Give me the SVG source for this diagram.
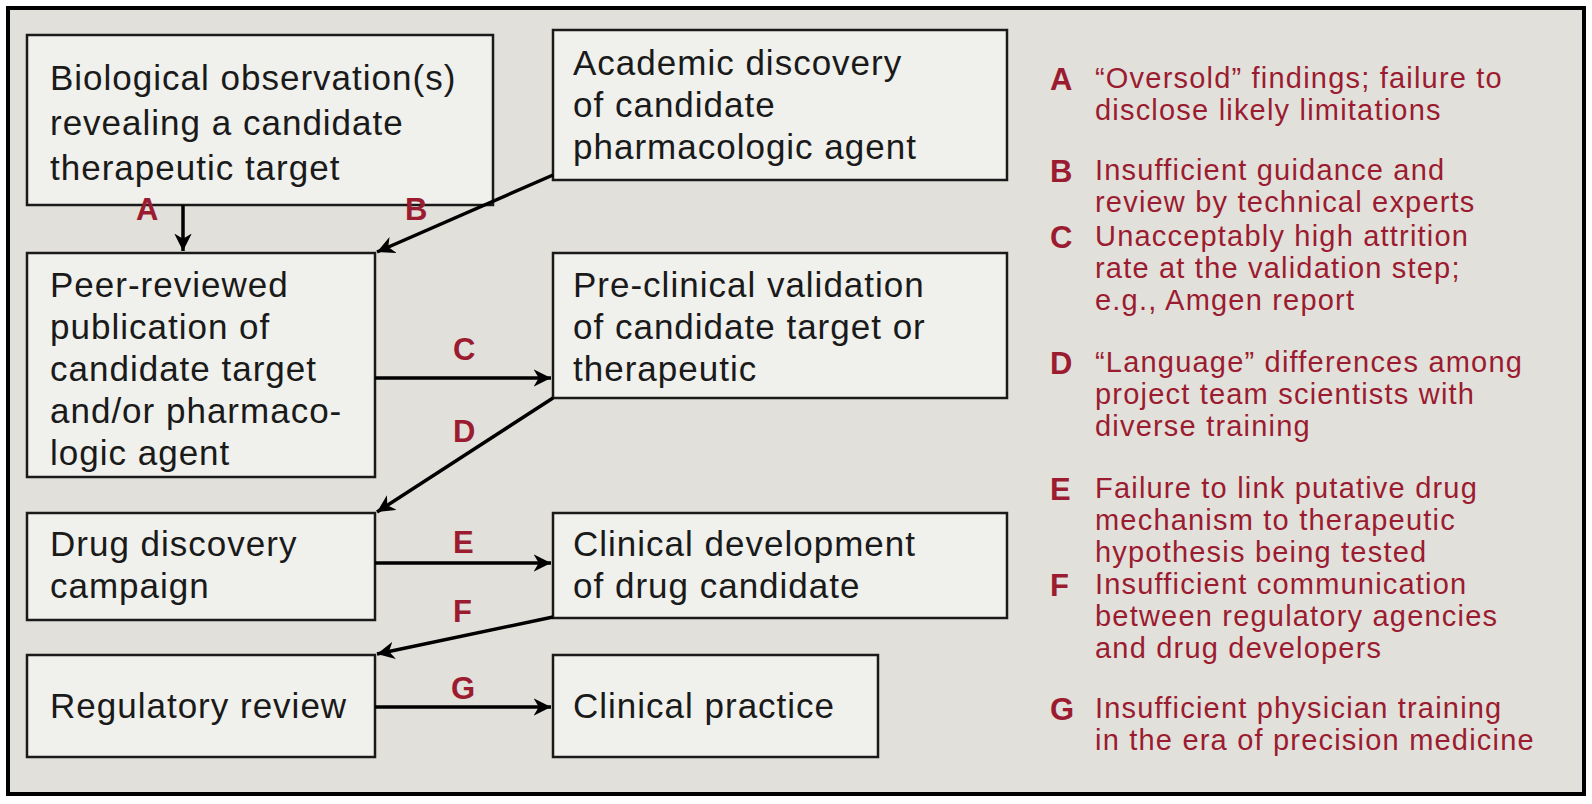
<svg xmlns="http://www.w3.org/2000/svg" width="1592" height="804" viewBox="0 0 1592 804">
<style>
.box{fill:#f0f0ec;stroke:#1a1a1a;stroke-width:2.5}
.t{font-family:"Liberation Sans",Arial,sans-serif;font-size:35px;fill:#1a1a1a;letter-spacing:1px}
.l{font-family:"Liberation Sans",Arial,sans-serif;font-size:31px;font-weight:bold;fill:#9b1b30}
.lg{font-family:"Liberation Sans",Arial,sans-serif;font-size:29px;fill:#9b1b30;letter-spacing:1.2px}
.c{stroke:#000;stroke-width:3.5;fill:none;marker-end:url(#ah)}
</style>
<defs><marker id="ah" viewBox="0 0 10 10" refX="10" refY="5" markerWidth="5" markerHeight="5" orient="auto" markerUnits="strokeWidth"><path d="M0,0L10,5L0,10L3,5z" fill="#000"/></marker></defs>
<rect width="1592" height="804" fill="#fff"/>
<rect x="8" y="8" width="1576" height="786" fill="#e2e0da" stroke="#000" stroke-width="4"/>
<g id="n1"><rect class="box" x="27" y="35" width="466" height="170"/><text class="t" x="50" y="90">Biological observation(s)</text><text class="t" x="50" y="135">revealing a candidate</text><text class="t" x="50" y="180">therapeutic target</text></g>
<g id="n2"><rect class="box" x="553" y="30" width="454" height="150"/><text class="t" x="573" y="75">Academic discovery</text><text class="t" x="573" y="117">of candidate</text><text class="t" x="573" y="159">pharmacologic agent</text></g>
<g id="n3"><rect class="box" x="27" y="253" width="348" height="224"/><text class="t" x="50" y="297">Peer-reviewed</text><text class="t" x="50" y="339">publication of</text><text class="t" x="50" y="381">candidate target</text><text class="t" x="50" y="423">and/or pharmaco-</text><text class="t" x="50" y="465">logic agent</text></g>
<g id="n4"><rect class="box" x="553" y="253" width="454" height="145"/><text class="t" x="573" y="297">Pre-clinical validation</text><text class="t" x="573" y="339">of candidate target or</text><text class="t" x="573" y="381">therapeutic</text></g>
<g id="n5"><rect class="box" x="27" y="513" width="348" height="107"/><text class="t" x="50" y="556">Drug discovery</text><text class="t" x="50" y="598">campaign</text></g>
<g id="n6"><rect class="box" x="553" y="513" width="454" height="105"/><text class="t" x="573" y="556">Clinical development</text><text class="t" x="573" y="598">of drug candidate</text></g>
<g id="n7"><rect class="box" x="27" y="655" width="348" height="102"/><text class="t" x="50" y="718">Regulatory review</text></g>
<g id="n8"><rect class="box" x="553" y="655" width="325" height="102"/><text class="t" x="573" y="718">Clinical practice</text></g>
<g id="connectors">
<line class="c" x1="183" y1="205" x2="183" y2="251"/>
<line class="c" x1="553" y1="175" x2="377" y2="252"/>
<line class="c" x1="375" y1="378" x2="551" y2="378"/>
<line class="c" x1="553" y1="398" x2="377" y2="512"/>
<line class="c" x1="375" y1="563" x2="551" y2="563"/>
<line class="c" x1="553" y1="617" x2="377" y2="654"/>
<line class="c" x1="375" y1="707" x2="551" y2="707"/>
<text class="l" x="136" y="220">A</text>
<text class="l" x="405" y="220">B</text>
<text class="l" x="453" y="360">C</text>
<text class="l" x="453" y="442">D</text>
<text class="l" x="453" y="553">E</text>
<text class="l" x="453" y="622">F</text>
<text class="l" x="451" y="699">G</text>
</g>
<g id="legend">
<text class="l" x="1050" y="90">A</text><text class="lg" x="1095" y="88">“Oversold” findings; failure to</text><text class="lg" x="1095" y="120">disclose likely limitations</text>
<text class="l" x="1050" y="182">B</text><text class="lg" x="1095" y="180">Insufficient guidance and</text><text class="lg" x="1095" y="212">review by technical experts</text>
<text class="l" x="1050" y="248">C</text><text class="lg" x="1095" y="246">Unacceptably high attrition</text><text class="lg" x="1095" y="278">rate at the validation step;</text><text class="lg" x="1095" y="310">e.g., Amgen report</text>
<text class="l" x="1050" y="374">D</text><text class="lg" x="1095" y="372">“Language” differences among</text><text class="lg" x="1095" y="404">project team scientists with</text><text class="lg" x="1095" y="436">diverse training</text>
<text class="l" x="1050" y="500">E</text><text class="lg" x="1095" y="498">Failure to link putative drug</text><text class="lg" x="1095" y="530">mechanism to therapeutic</text><text class="lg" x="1095" y="562">hypothesis being tested</text>
<text class="l" x="1050" y="596">F</text><text class="lg" x="1095" y="594">Insufficient communication</text><text class="lg" x="1095" y="626">between regulatory agencies</text><text class="lg" x="1095" y="658">and drug developers</text>
<text class="l" x="1050" y="720">G</text><text class="lg" x="1095" y="718">Insufficient physician training</text><text class="lg" x="1095" y="750">in the era of precision medicine</text>
</g>
</svg>
